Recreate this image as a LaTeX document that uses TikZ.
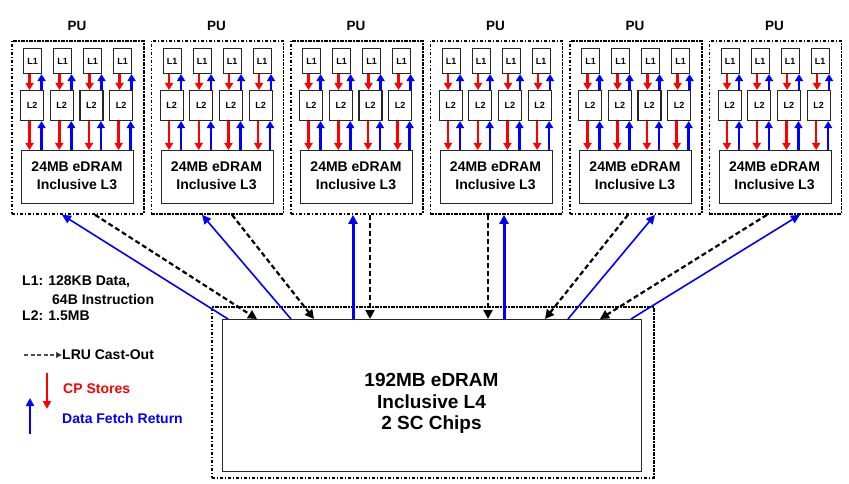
\documentclass[tikz,border=0pt]{standalone}
\usepackage{fontspec}
\setmainfont{Liberation Sans}
\usetikzlibrary{arrows.meta,calc}
\begin{document}
\begin{tikzpicture}[x=1pt,y=-1pt,
  outerbox/.style={draw=black, line width=1.8pt, dash pattern=on 3.5pt off 1.5pt on 1.5pt off 1.5pt, inner sep=0pt, anchor=north west},
  cachebox/.style={draw=black!85, line width=1.1pt, fill=white, inner sep=0pt, anchor=north west, font=\bfseries},
  smalllbl/.style={font=\fontsize{9}{10}\selectfont\bfseries},
  putext/.style={font=\fontsize{13.5}{15}\selectfont\bfseries},
  l3text/.style={font=\fontsize{14}{18}\selectfont\bfseries, align=center},
  l4text/.style={font=\fontsize{19}{21.5}\selectfont\bfseries, align=center},
  legtext/.style={font=\fontsize{14}{15}\selectfont\bfseries, anchor=west, inner sep=0pt},
  redarr/.style={draw=red, line width=2.5pt, -{Triangle[length=7pt,width=8pt]}},
  bluearr/.style={draw=blue, line width=2.5pt, -{Triangle[length=7pt,width=8pt]}},
  castout/.style={draw=black, line width=2.2pt, dash pattern=on 5pt off 3pt, -{Triangle[length=9pt,width=9pt]}},
  fetch/.style={draw=blue, line width=1.6pt, -{Triangle[length=9pt,width=8.5pt]}},
  fetchthick/.style={draw=blue, line width=3pt, -{Triangle[length=9pt,width=9pt]}},
  legdash/.style={draw=black!70, line width=1.2pt, dash pattern=on 4pt off 2.5pt, -{Triangle[length=6pt,width=6pt,fill=black]}},
]
\useasboundingbox (0,0) rectangle (849,484);

% ---------- L4 ----------
\node[outerbox, minimum width=442pt, minimum height=171pt] (l4o) at (211,306) {};

% ---------- PUs ----------
\foreach \i in {0,...,5} {
  \pgfmathsetmacro\xo{11+139.5*\i}
  \node[outerbox, minimum width=132pt, minimum height=173pt] (pu\i) at (\xo,40) {};
  \node[putext] (pul\i) at (\xo+66,26) {PU};
  \node[cachebox, minimum width=112pt, minimum height=53pt] (l3-\i) at (\xo+10,150) {};
  \node[l3text] (l3t\i) at (\xo+66,176) {24MB eDRAM\\Inclusive L3};
  \foreach \j in {0,...,3} {
    \node[cachebox, smalllbl, minimum width=18pt, minimum height=25pt] (l1-\i-\j) at (\xo+12+30*\j,48) {L1};
    \node[cachebox, smalllbl, minimum width=23pt, minimum height=30pt] (l2-\i-\j) at (\xo+9+29.7*\j,90) {L2};
    \draw[redarr] ([xshift=-3pt]l1-\i-\j.south) -- ([xshift=-3pt]l1-\i-\j.south |- l2-\i-\j.north);
    \draw[bluearr] ([xshift=9pt]l1-\i-\j.south |- l2-\i-\j.north) -- ([xshift=9pt]l1-\i-\j.south);
    \draw[redarr] ([xshift=-2.5pt]l2-\i-\j.south) -- ([xshift=-2.5pt]l2-\i-\j.south |- l3-\i.north);
    \draw[bluearr] ([xshift=9.5pt]l2-\i-\j.south |- l3-\i.north) -- ([xshift=9.5pt]l2-\i-\j.south);
  }
}

% ---------- L4 inner box and text ----------
\node[cachebox, minimum width=419pt, minimum height=152pt] (l4) at (222,319) {};
\node[l4text] (l4t) at (431.5,403.5) {192MB eDRAM\\Inclusive L4\\2 SC Chips};

% ---------- PU <-> L4 connectors ----------
% PU1
\draw[fetch] ([xshift=6pt]l4.north west) -- ([xshift=51pt]pu0.south west);
\draw[castout] ([xshift=84pt]pu0.south west) -- ([xshift=35pt]l4.north west);
% PU2
\draw[fetch] ([xshift=69pt]l4.north west) -- ([xshift=51.5pt]pu1.south west);
\draw[castout] ([xshift=81.5pt]pu1.south west) -- ([xshift=92pt]l4.north west);
% PU3
\draw[fetchthick] ([xshift=131pt]l4.north west) -- ([xshift=63pt]pu2.south west);
\draw[castout] ([xshift=80pt]pu2.south west) -- ([xshift=148pt]l4.north west);
% PU4
\draw[castout] ([xshift=58.5pt]pu3.south west) -- ([xshift=266pt]l4.north west);
\draw[fetchthick] ([xshift=282pt]l4.north west) -- ([xshift=74.5pt]pu3.south west);
% PU5
\draw[castout] ([xshift=59pt]pu4.south west) -- ([xshift=323pt]l4.north west);
\draw[fetch] ([xshift=346pt]l4.north west) -- ([xshift=86pt]pu4.south west);
% PU6
\draw[castout] ([xshift=58.5pt]pu5.south west) -- ([xshift=378pt]l4.north west);
\draw[fetch] ([xshift=409pt]l4.north west) -- ([xshift=91.5pt]pu5.south west);

% ---------- Legend ----------
\node[legtext] (leg1) at (22,282) {L1: 128KB Data,};
\node[legtext] (leg2) at (52,299) {64B Instruction};
\node[legtext] (leg3) at (22,316) {L2: 1.5MB};
\node[legtext] (lru) at (62,355) {LRU Cast-Out};
\coordinate (lrus) at (24,355);
\draw[legdash] (lrus) -- (lru.west);
\node[legtext, text=red] (cps) at (63,389) {CP Stores};
\coordinate (cpa) at (47,373);
\coordinate (cpb) at (47,409);
\draw[draw=red, line width=2.5pt, -{Triangle[length=8pt,width=8pt]}] (cpa) -- (cpb);
\node[legtext, text=blue] (dfr) at (62,418) {Data Fetch Return};
\coordinate (dfa) at (30,434);
\coordinate (dfb) at (30,398);
\draw[draw=blue, line width=2.5pt, -{Triangle[length=8pt,width=8pt]}] (dfa) -- (dfb);
\end{tikzpicture}
\end{document}
